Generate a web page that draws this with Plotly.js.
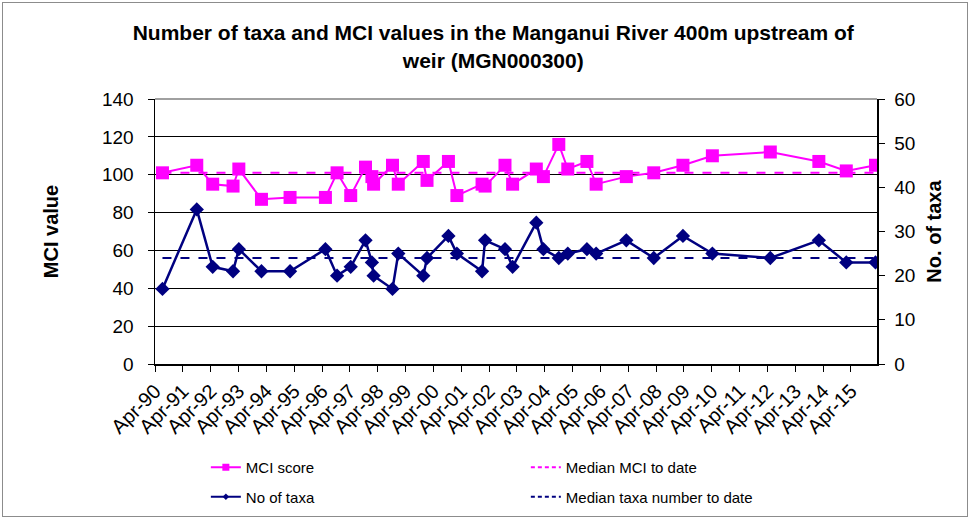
<!DOCTYPE html>
<html>
<head>
<meta charset="utf-8">
<script src="https://cdn.plot.ly/plotly-3.0.1.min.js"></script>
<style>
  html, body { margin: 0; padding: 0; background: #fff; }
  #chart { position: absolute; left: 0; top: 0; width: 971px; height: 519px; }
  #frame { position: absolute; left: 2px; top: 2px; width: 964px; height: 513px; border: 1px solid #8c8c8c; pointer-events: none; }
</style>
</head>
<body>
<div id="chart"></div>
<div id="frame"></div>
<script>
// Sampling dates
const sampleDates = [
  '1990-07-08','1991-10-01','1992-04-27','1993-01-19','1993-04-05','1994-01-27',
  '1995-02-06','1996-05-15','1996-10-15','1997-04-12','1997-10-23','1998-01-15',
  '1998-02-06','1998-10-12','1998-12-27','1999-11-20','2000-01-08','2000-10-15',
  '2001-02-03','2001-12-30','2002-02-08','2002-10-27','2003-02-04','2003-12-12',
  '2004-03-14','2004-10-02','2005-01-28','2005-10-06','2006-02-04','2007-03-07',
  '2008-03-01','2009-03-19','2010-04-09','2012-05-08','2014-02-04','2015-01-30',
  '2016-02-17'
];
// MCI score (left axis)
const mciScore = [
  101, 105, 95, 94, 103, 87,
  88, 88, 101, 89, 104, 99,
  95, 105, 95, 107, 97, 107,
  89, 95, 94, 105, 95, 103,
  99, 116, 103, 107, 95, 99,
  101, 105, 110, 112, 107, 102,
  105
];
// Number of taxa (right axis)
const taxaCount = [
  17, 35, 22, 21, 26, 21,
  21, 26, 20, 22, 28, 23,
  20, 17, 25, 20, 24, 29,
  25, 21, 28, 26, 22, 32,
  26, 24, 25, 26, 25, 28,
  24, 29, 25, 24, 28, 23,
  23
];
const medianMci = 101;
const medianTaxa = 24;
const seriesNames = ['MCI score', 'Median MCI to date', 'No of taxa', 'Median taxa number to date'];

const firstLast = [sampleDates[0], sampleDates[sampleDates.length - 1]];
const FONT = 'Liberation Sans, Arial, sans-serif';
const MAGENTA = '#FF00FF', NAVY = '#000080';

const traces = [
  {
    name: seriesNames[0], x: sampleDates, y: mciScore, type: 'scatter', mode: 'lines+markers',
    line: { color: MAGENTA, width: 2 },
    marker: { symbol: 'square', size: 13, color: MAGENTA },
    showlegend: false, yaxis: 'y'
  },
  {
    name: seriesNames[1], x: firstLast, y: [medianMci, medianMci], type: 'scatter', mode: 'lines',
    line: { color: MAGENTA, width: 2, dash: 'dash' },
    showlegend: false, yaxis: 'y'
  },
  {
    name: seriesNames[2], x: sampleDates, y: taxaCount, type: 'scatter', mode: 'lines+markers',
    line: { color: NAVY, width: 2.5 },
    marker: { symbol: 'diamond', size: 11, color: NAVY },
    showlegend: false, yaxis: 'y2'
  },
  {
    name: seriesNames[3], x: firstLast, y: [medianTaxa, medianTaxa], type: 'scatter', mode: 'lines',
    line: { color: NAVY, width: 2, dash: 'dash' },
    showlegend: false, yaxis: 'y2'
  },
  // legend entries (small legend symbols, as in the reference)
  { name: seriesNames[0], x: [null], y: [null], type: 'scatter', mode: 'lines+markers',
    line: { color: MAGENTA, width: 2 }, marker: { symbol: 'square', size: 7, color: MAGENTA }, legend: 'legend' },
  { name: seriesNames[1], x: [null], y: [null], type: 'scatter', mode: 'lines',
    line: { color: MAGENTA, width: 2, dash: '4px,3px' }, legend: 'legend' },
  { name: seriesNames[2], x: [null], y: [null], type: 'scatter', mode: 'lines+markers', yaxis: 'y2',
    line: { color: NAVY, width: 2 }, marker: { symbol: 'diamond', size: 5, color: NAVY }, legend: 'legend2' },
  { name: seriesNames[3], x: [null], y: [null], type: 'scatter', mode: 'lines', yaxis: 'y2',
    line: { color: NAVY, width: 2, dash: '4px,3px' }, legend: 'legend2' }
];

const legendCommon = {
  orientation: 'h', xref: 'container', yref: 'container', xanchor: 'left', yanchor: 'top',
  font: { family: FONT, size: 15, color: '#000' }, entrywidth: 275, bgcolor: 'rgba(0,0,0,0)',
  tracegroupgap: 0, itemsizing: 'trace'
};

const layout = {
  width: 971, height: 519,
  paper_bgcolor: '#fff', plot_bgcolor: '#fff',
  margin: { l: 155, r: 94, t: 99, b: 155 },
  font: { family: FONT, color: '#000' },
  title: {
    text: 'Number of taxa and MCI values in the Manganui River 400m upstream of<br>weir (MGN000300)',
    font: { family: FONT, size: 21, color: '#000', weight: 'bold' },
    x: 0.508, xanchor: 'center', y: 0.922, yanchor: 'top'
  },
  xaxis: {
    type: 'date', range: ['1990-04-01', '2016-03-08'],
    tick0: '1990-04-01', dtick: 'M12', tickformat: '%b-%y', tickangle: -45,
    ticks: 'outside', ticklen: 6, tickcolor: '#000', tickwidth: 1,
    showline: true, linecolor: '#000', linewidth: 1.5, showgrid: false, zeroline: false,
    tickfont: { family: FONT, size: 20, color: '#000' }
  },
  yaxis: {
    range: [0, 140], dtick: 20, tick0: 0,
    ticks: 'outside', ticklen: 6, tickcolor: '#000', ticklabelstandoff: 10,
    showline: true, linecolor: '#000', linewidth: 1.5,
    showgrid: true, gridcolor: '#000', gridwidth: 1, zeroline: false,
    tickfont: { family: FONT, size: 19, color: '#000' },
    title: { text: 'MCI value', font: { family: FONT, size: 20, color: '#000', weight: 'bold' }, standoff: 38 }
  },
  yaxis2: {
    range: [0, 60], dtick: 10, tick0: 0, overlaying: 'y', side: 'right',
    ticks: 'outside', ticklen: 6, tickcolor: '#000', ticklabelstandoff: 6,
    showline: true, linecolor: '#000', linewidth: 1.5, showgrid: false, zeroline: false,
    tickfont: { family: FONT, size: 19, color: '#000' },
    title: { text: 'No. of taxa', font: { family: FONT, size: 20, color: '#000', weight: 'bold' }, standoff: 12 }
  },
  shapes: [
    { type: 'line', xref: 'paper', yref: 'paper', x0: 0, x1: 1, y0: 1, y1: 1, line: { color: '#808080', width: 1.5 } }
  ],
  showlegend: true,
  legend: Object.assign({}, legendCommon, { x: 0.212, y: 0.131 }),
  legend2: Object.assign({}, legendCommon, { x: 0.212, y: 0.074 })
};

Plotly.newPlot('chart', traces, layout, { displayModeBar: false, staticPlot: true });
</script>
</body>
</html>
